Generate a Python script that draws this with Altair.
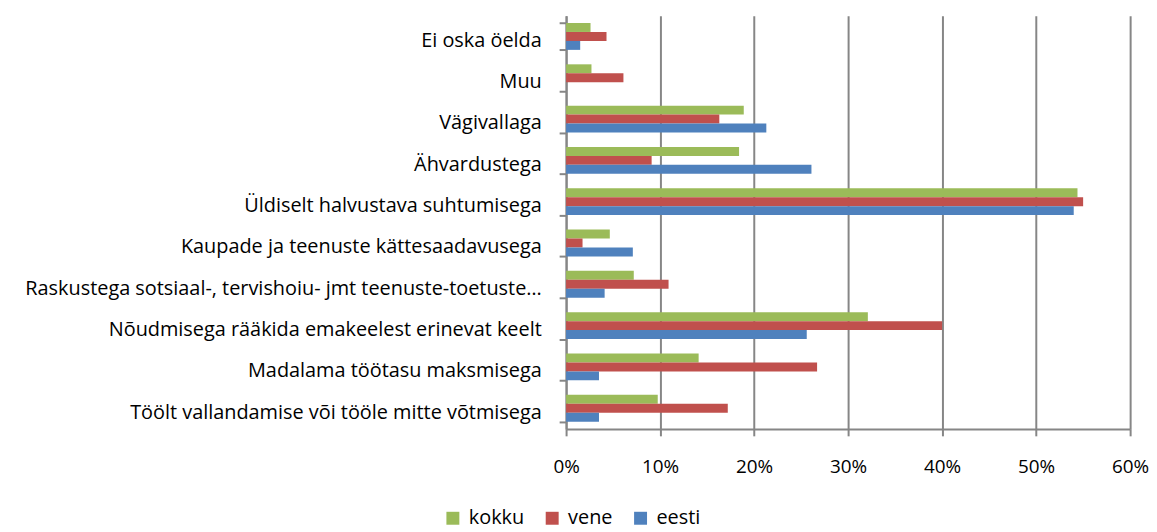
import altair as alt
import pandas as pd

categories = [
    "Ei oska öelda",
    "Muu",
    "Vägivallaga",
    "Ähvardustega",
    "Üldiselt halvustava suhtumisega",
    "Kaupade ja teenuste kättesaadavusega",
    "Raskustega sotsiaal-, tervishoiu- jmt teenuste-toetuste…",
    "Nõudmisega rääkida emakeelest erinevat keelt",
    "Madalama töötasu maksmisega",
    "Töölt vallandamise või tööle mitte võtmisega",
]
series = ["kokku", "vene", "eesti"]
kokku = [2.6, 2.7, 18.9, 18.4, 54.4, 4.65, 7.2, 32.1, 14.1, 9.75]
vene = [4.3, 6.1, 16.3, 9.1, 55.0, 1.75, 10.9, 40.0, 26.7, 17.2]
eesti = [1.5, 0.0, 21.3, 26.1, 54.0, 7.1, 4.1, 25.6, 3.5, 3.5]
colors = ["#9BBB59", "#C0504D", "#4F81BD"]
x_ticks = [0, 10, 20, 30, 40, 50, 60]

rows = []
for i, c in enumerate(categories):
    for s, vals in zip(series, [kokku, vene, eesti]):
        rows.append({"category": c, "series": s, "value": vals[i]})
df = pd.DataFrame(rows)

FONT = "Open Sans"
FS = 20
GRAY = "#868686"

chart = alt.Chart(df).mark_bar().encode(
    y=alt.Y(
        "category:N",
        sort=categories,
        title=None,
        scale=alt.Scale(paddingInner=0.35, paddingOuter=0.175),
        axis=alt.Axis(
            tickBand="extent",
            tickSize=7,
            tickWidth=2,
            tickColor=GRAY,
            domainColor=GRAY,
            domainWidth=2,
            labelPadding=18,
            labelOffset=4,
            labelLimit=700,
            labelFont=FONT,
            labelFontSize=FS,
            labelColor="#000000",
            grid=False,
        ),
    ),
    yOffset=alt.YOffset("series:N", sort=series, scale=alt.Scale(paddingInner=0, paddingOuter=0)),
    x=alt.X(
        "value:Q",
        title=None,
        scale=alt.Scale(domain=[0, 60], nice=False),
        axis=alt.Axis(
            values=x_ticks,
            labelExpr="datum.value + '%'",
            grid=True,
            gridColor=GRAY,
            gridWidth=2,
            tickSize=7,
            tickWidth=2,
            tickColor=GRAY,
            domainColor=GRAY,
            domainWidth=2,
            labelPadding=22,
            labelFont=FONT,
            labelFontSize=19,
            labelColor="#000000",
            labelFlush=False,
        ),
    ),
    color=alt.Color(
        "series:N",
        sort=series,
        scale=alt.Scale(domain=series, range=colors),
        legend=alt.Legend(
            title=None,
            orient="none",
            direction="horizontal",
            legendX=-124,
            legendY=496,
            symbolType="square",
            symbolSize=170,
            symbolStrokeWidth=0,
            labelFont=FONT,
            labelFontSize=FS,
            labelColor="#000000",
            columnPadding=18,
            labelOffset=6,
            padding=0,
        ),
    ),
).properties(
    width=568,
    height=416,
    autosize=alt.AutoSizeParams(type="none"),
    padding={"left": 562, "top": 6, "right": 19, "bottom": 102},
).configure_view(strokeWidth=0)

chart.save("out.html", embed_options={"renderer": "svg", "actions": False})
